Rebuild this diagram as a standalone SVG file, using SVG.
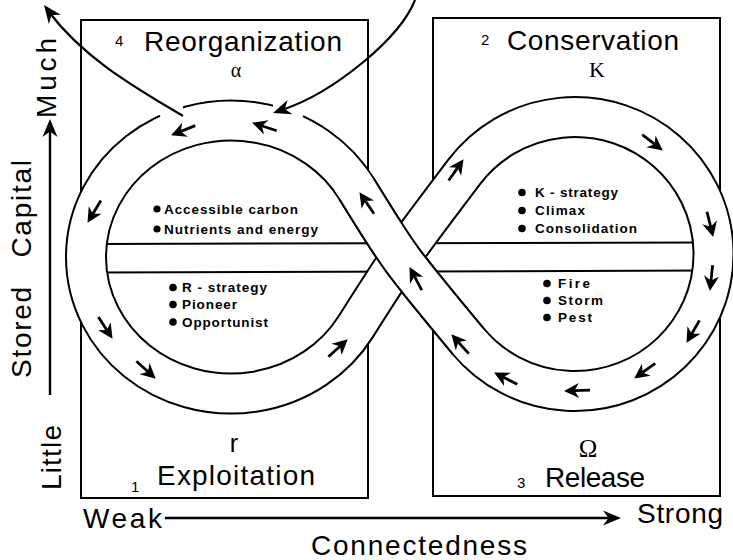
<svg xmlns="http://www.w3.org/2000/svg" xmlns:xlink="http://www.w3.org/1999/xlink" width="733" height="560" viewBox="0 0 733 560">
<style>
.box{fill:none;stroke:#000;stroke-width:2}
.t{font-family:"Liberation Sans",Arial,Helvetica,sans-serif;fill:#000}
.big{font-size:28px}
.num{font-size:15px}
.sym{font-family:"Liberation Serif","Times New Roman",serif;fill:#000}
.in{font-family:"Liberation Sans",Arial,sans-serif;font-size:13.5px;font-weight:bold;fill:#000}
.dot{fill:#000}
.edge{fill:none;stroke:#000;stroke-width:42}
.core{fill:none;stroke:#fff;stroke-width:38}
.band{stroke:#000;stroke-width:2}
.cur{fill:none;stroke:#000;stroke-width:2.2}
.head{fill:#000}
</style>
<defs>
<path id="loop" d="M 356.7 189 A 145 136.5 0 1 0 355.7 326.7 C 399 258 399 258 464.1 172 A 138.5 137 0 1 1 468 341 C 399 258 399 258 356.7 189 Z"/>
<path id="stripA" d="M 468 341 C 399 258 399 258 356.7 189"/>
<path id="stripAext" d="M 477.1 350.9 A 138.5 137 0 0 1 468 341 C 399 258 399 258 356.7 189 A 145 136.5 0 0 0 349.8 178.7"/>
<g id="sa"><path d="M1,0 L-14,-7.5 L-9.5,0 L-14,7.5 Z"/><line x1="-9" y1="0" x2="-25" y2="0" stroke="#000" stroke-width="2.8"/></g>
<path id="bh" d="M0,0 L-18,-7.5 L-12.5,0 L-18,7.5 Z"/>
</defs>

<g id="quadrant-reorganization">
<rect class="box" x="81" y="20" width="287" height="478"/>
<text class="t num" x="115" y="46">4</text>
<text class="t big" x="144" y="51" textLength="198">Reorganization</text>
<text class="sym" x="236" y="77" font-size="20" text-anchor="middle">α</text>
</g>
<g id="quadrant-conservation">
<rect class="box" x="433" y="18" width="287" height="478"/>
<text class="t num" x="481" y="45">2</text>
<text class="t big" x="507" y="50" textLength="172">Conservation</text>
<text class="sym" x="597" y="77" font-size="22" text-anchor="middle">K</text>
</g>
<g id="quadrant-exploitation">
<text class="t" x="234" y="452" font-size="25" text-anchor="middle">r</text>
<text class="t num" x="131" y="492">1</text>
<text class="t big" x="157" y="485" textLength="158">Exploitation</text>
</g>
<g id="quadrant-release">
<text class="sym" x="588" y="457" font-size="25" text-anchor="middle">Ω</text>
<text class="t num" x="517" y="488">3</text>
<text class="t big" x="545" y="487" textLength="100">Release</text>
</g>

<g id="adaptive-cycle">
<use xlink:href="#loop" href="#loop" fill="#fff"/>
<line class="band" x1="100" y1="244" x2="705" y2="242.5"/>
<line class="band" x1="100" y1="272.5" x2="705" y2="270.5"/>
<use xlink:href="#loop" href="#loop" class="edge"/>
<use xlink:href="#loop" href="#loop" class="core"/>
<use xlink:href="#stripA" href="#stripA" class="edge"/>
<use xlink:href="#stripAext" href="#stripAext" class="core"/>
<path d="M 160 115.7 A 165 156.5 0 0 1 183 107.3" fill="none" stroke="#fff" stroke-width="6"/>
<path d="M 273 105.6 A 165 156.5 0 0 1 303 116.2" fill="none" stroke="#fff" stroke-width="6"/>
</g>

<g id="traits-alpha">
<circle class="dot" cx="157" cy="209" r="3.6"/>
<text class="in" x="164" y="213.5" font-size="12.5" textLength="134">Accessible carbon</text>
<circle class="dot" cx="157" cy="229" r="3.6"/>
<text class="in" x="164" y="233.5" font-size="12.5" textLength="154">Nutrients and energy</text>
</g>
<g id="traits-r">
<circle class="dot" cx="173" cy="287.5" r="3.8"/>
<text class="in" x="182" y="292" textLength="85">R - strategy</text>
<circle class="dot" cx="173" cy="304.5" r="3.8"/>
<text class="in" x="182" y="309" textLength="55">Pioneer</text>
<circle class="dot" cx="173" cy="322" r="3.8"/>
<text class="in" x="182" y="326.5" textLength="86">Opportunist</text>
</g>
<g id="traits-k">
<circle class="dot" cx="522" cy="192.5" r="3.8"/>
<text class="in" x="535" y="197" textLength="83">K - strategy</text>
<circle class="dot" cx="522" cy="210.5" r="3.8"/>
<text class="in" x="535" y="215" textLength="50">Climax</text>
<circle class="dot" cx="522" cy="228.5" r="3.8"/>
<text class="in" x="535" y="233" textLength="102">Consolidation</text>
</g>
<g id="traits-omega">
<circle class="dot" cx="547" cy="283.5" r="3.8"/>
<text class="in" x="558" y="288" textLength="32">Fire</text>
<circle class="dot" cx="547" cy="300.5" r="3.8"/>
<text class="in" x="558" y="305" textLength="45">Storm</text>
<circle class="dot" cx="547" cy="317.5" r="3.8"/>
<text class="in" x="558" y="322" textLength="34">Pest</text>
</g>

<g id="connectors">
<path class="cur" d="M 183 116 C 140 90 85 60 49 12"/>
<use xlink:href="#bh" href="#bh" class="head" transform="translate(44,5) rotate(233)"/>
<path class="cur" d="M 415 0 C 400 38 335 92 282 110"/>
<use xlink:href="#bh" href="#bh" class="head" transform="translate(273,113) rotate(161)"/>
<line x1="50" y1="395" x2="50" y2="128" stroke="#000" stroke-width="2.4"/>
<use xlink:href="#bh" href="#bh" class="head" transform="translate(50,119) rotate(-90)"/>
<line x1="165" y1="518" x2="610" y2="518" stroke="#000" stroke-width="2.4"/>
<use xlink:href="#bh" href="#bh" class="head" transform="translate(621,518)"/>
<g class="head">
<use xlink:href="#sa" href="#sa" transform="translate(172,135) rotate(158)"/>
<use xlink:href="#sa" href="#sa" transform="translate(253,123) rotate(198)"/>
<use xlink:href="#sa" href="#sa" transform="translate(88,222) rotate(121)"/>
<use xlink:href="#sa" href="#sa" transform="translate(112,338) rotate(57)"/>
<use xlink:href="#sa" href="#sa" transform="translate(155,378) rotate(42)"/>
<use xlink:href="#sa" href="#sa" transform="translate(347,340) rotate(-42)"/>
<use xlink:href="#sa" href="#sa" transform="translate(463,160) rotate(-55)"/>
<use xlink:href="#sa" href="#sa" transform="translate(662,150) rotate(38)"/>
<use xlink:href="#sa" href="#sa" transform="translate(713,236) rotate(76)"/>
<use xlink:href="#sa" href="#sa" transform="translate(710,290) rotate(96)"/>
<use xlink:href="#sa" href="#sa" transform="translate(687,342) rotate(120)"/>
<use xlink:href="#sa" href="#sa" transform="translate(635,378) rotate(144)"/>
<use xlink:href="#sa" href="#sa" transform="translate(565,391) rotate(178)"/>
<use xlink:href="#sa" href="#sa" transform="translate(495,373) rotate(207)"/>
<use xlink:href="#sa" href="#sa" transform="translate(452,335) rotate(228)"/>
<use xlink:href="#sa" href="#sa" transform="translate(410,268) rotate(242)"/>
<use xlink:href="#sa" href="#sa" transform="translate(360,193) rotate(236)"/>
</g>
</g>

<g id="axes-labels">
<text class="t big" transform="translate(61,490) rotate(-90)" font-size="30" textLength="65">Little</text>
<text class="t big" transform="translate(31,378) rotate(-90)" font-size="30" word-spacing="18" textLength="218">Stored Capital</text>
<text class="t big" transform="translate(56,118) rotate(-90)" textLength="80">Much</text>
<text class="t big" x="83" y="528" textLength="79">Weak</text>
<text class="t big" x="637" y="523" textLength="86">Strong</text>
<text class="t big" x="311" y="555" font-size="30" textLength="216">Connectedness</text>
</g>
</svg>
